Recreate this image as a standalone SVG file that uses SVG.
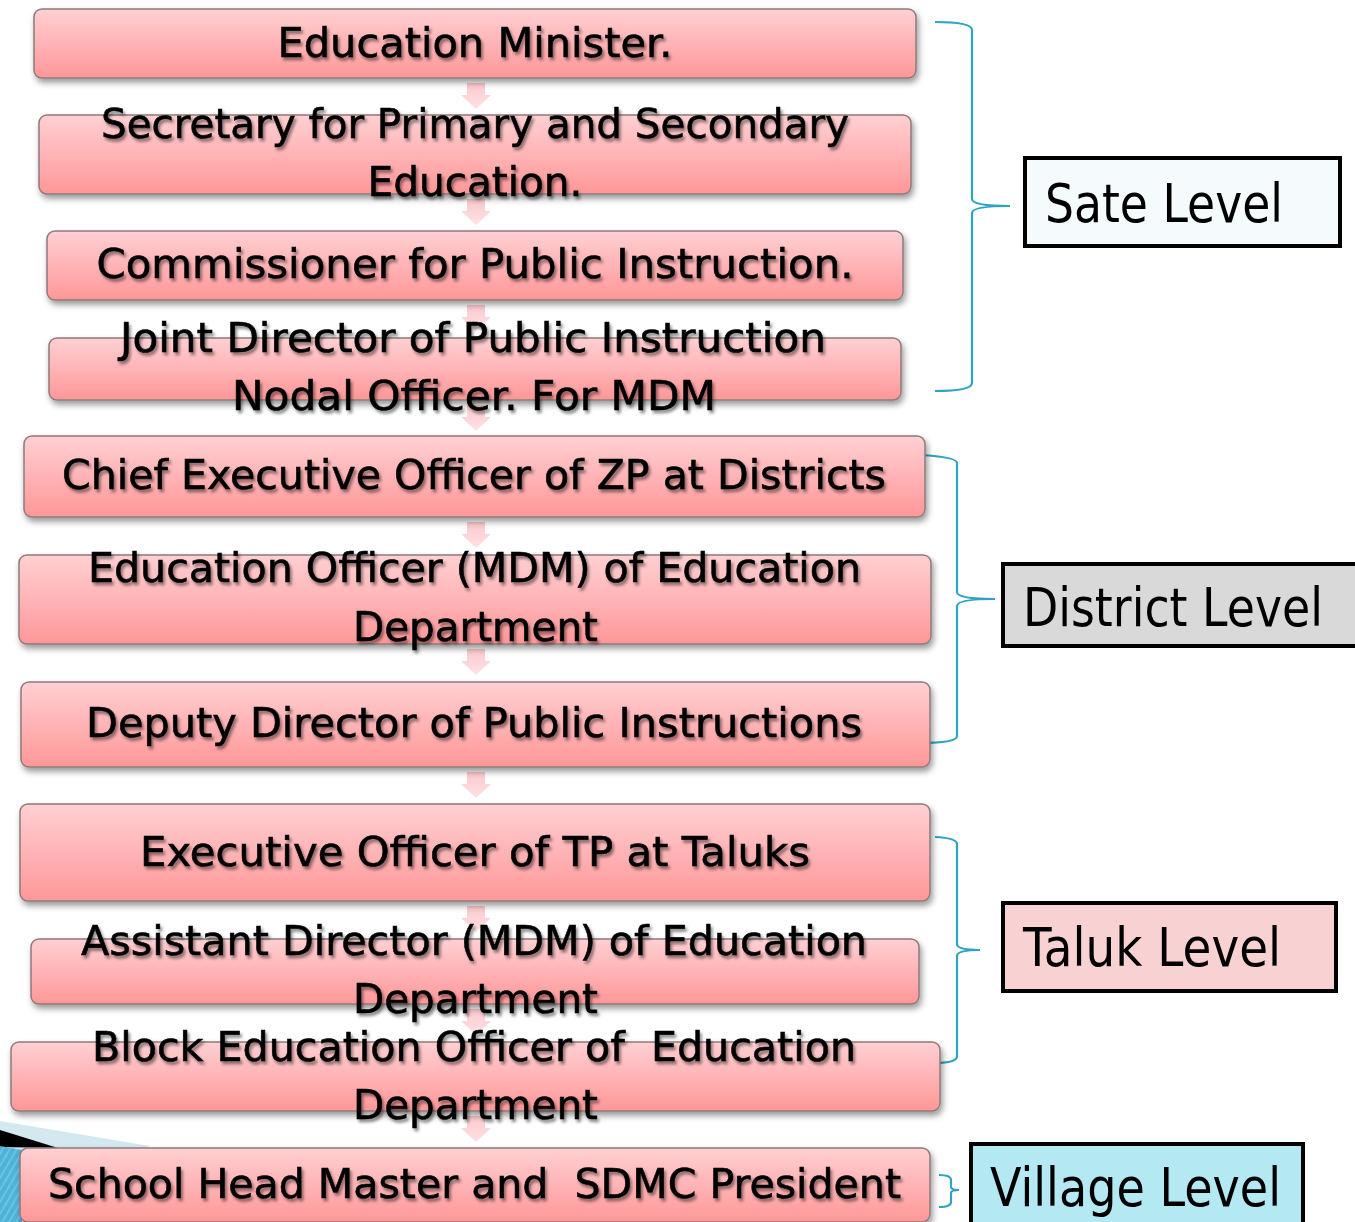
<svg xmlns="http://www.w3.org/2000/svg" width="1355" height="1222" viewBox="0 0 1355 1222">
<style>
.box{fill:url(#boxg);stroke:#8f7a7a;stroke-width:1.5;filter:url(#bshadow)}
.t{font-family:"DejaVu Sans","Liberation Sans",sans-serif;font-weight:normal;font-size:41px;fill:#000;stroke:#000;stroke-width:0.6;text-anchor:middle;filter:url(#tshadow)}
.arrow{fill:url(#arrg)}
.brace{fill:none;stroke:#2fa3c0;stroke-width:2.2}
.lvl{stroke:#000;stroke-width:4}
.lt{font-family:"DejaVu Sans","Liberation Sans",sans-serif;font-size:54px;fill:#000}
</style>
<defs>
<linearGradient id="boxg" x1="0" y1="0" x2="0" y2="1">
<stop offset="0" stop-color="#ffd0d3"/>
<stop offset="1" stop-color="#ff9798"/>
</linearGradient>
<linearGradient id="arrg" x1="0" y1="0" x2="0" y2="1">
<stop offset="0" stop-color="#fcc8cd"/>
<stop offset="1" stop-color="#fde2e4"/>
</linearGradient>
<filter id="bshadow" x="-5%" y="-20%" width="110%" height="150%">
<feDropShadow dx="2" dy="4" stdDeviation="3" flood-color="#000" flood-opacity="0.4"/>
</filter>
<filter id="tshadow" x="-5%" y="-30%" width="110%" height="170%">
<feDropShadow dx="2" dy="3" stdDeviation="1.5" flood-color="#000" flood-opacity="0.45"/>
</filter>
<pattern id="hatch" width="6" height="6" patternUnits="userSpaceOnUse" patternTransform="rotate(30)">
<rect width="6" height="6" fill="#4fb3d9"/>
<rect width="2" height="6" fill="#6cc2e2"/>
</pattern>
</defs>
<rect width="1355" height="1222" fill="#fff"/>
<g id="decor">
<polygon points="0,1121 150,1146 0,1222" fill="#d4e8f0"/>
<polygon points="0,1130 58,1148 0,1147" fill="#000"/>
<polygon points="0,1146 22,1150 22,1222 0,1222" fill="url(#hatch)"/>
</g>
<g id="connectors">
<g class="arrow">
<path d="M467,83 h18 v12 h6 l-15,14 l-15,-14 h6 z"/>
<path d="M467,199 h18 v12 h6 l-15,14 l-15,-14 h6 z"/>
<path d="M467,305 h18 v12 h6 l-15,14 l-15,-14 h6 z"/>
<path d="M467,405 h18 v12 h6 l-15,14 l-15,-14 h6 z"/>
<path d="M467,522 h18 v12 h6 l-15,14 l-15,-14 h6 z"/>
<path d="M467,649 h18 v12 h6 l-15,14 l-15,-14 h6 z"/>
<path d="M467,772 h18 v12 h6 l-15,14 l-15,-14 h6 z"/>
<path d="M467,906 h18 v12 h6 l-15,14 l-15,-14 h6 z"/>
<path d="M467,1009 h18 v12 h6 l-15,14 l-15,-14 h6 z"/>
<path d="M467,1116 h18 v12 h6 l-15,14 l-15,-14 h6 z"/>
</g>
<path class="brace" d="M935,22 Q972,22 972,30 V199 Q972,206 1010,206 Q972,206 972,213 V383 Q972,391 935,391"/>
<path class="brace" d="M920,455 Q957,457 957,463 V592 Q957,599 995,599 Q957,599 957,606 V736 Q957,743 920,743"/>
<path class="brace" d="M935,837 Q957,838 957,844 V944 Q957,950 980,950 Q957,950 957,956 V1056 Q957,1063 935,1063"/>
<path class="brace" d="M939,1175 Q951,1175 951,1180 V1187 Q951,1190 959,1190 Q951,1190 951,1193 V1202 Q951,1207 939,1207"/>
</g>
<g id="n1"><rect class="box" x="34" y="9" width="882" height="69" rx="8"/>
<text class="t" x="475" y="57" textLength="395" lengthAdjust="spacingAndGlyphs">Education Minister.</text></g>
<g id="n2"><rect class="box" x="39" y="115" width="872" height="79" rx="8"/>
<text class="t" x="475" y="138" textLength="748" lengthAdjust="spacingAndGlyphs">Secretary for Primary and Secondary</text>
<text class="t" x="475" y="196" textLength="215" lengthAdjust="spacingAndGlyphs">Education.</text></g>
<g id="n3"><rect class="box" x="47" y="231" width="856" height="69" rx="8"/>
<text class="t" x="475" y="278" textLength="757" lengthAdjust="spacingAndGlyphs">Commissioner for Public Instruction.</text></g>
<g id="n4"><rect class="box" x="49" y="338" width="852" height="62" rx="8"/>
<text class="t" x="473" y="352" textLength="706" lengthAdjust="spacingAndGlyphs">Joint Director of Public Instruction</text>
<text class="t" x="474" y="410" textLength="484" lengthAdjust="spacingAndGlyphs">Nodal Officer. For MDM</text></g>
<g id="n5"><rect class="box" x="24" y="436" width="901" height="81" rx="8"/>
<text class="t" x="474" y="489" textLength="824" lengthAdjust="spacingAndGlyphs">Chief Executive Officer of ZP at Districts</text></g>
<g id="n6"><rect class="box" x="19" y="555" width="912" height="89" rx="8"/>
<text class="t" x="474.5" y="582" textLength="773" lengthAdjust="spacingAndGlyphs">Education Officer (MDM) of Education</text>
<text class="t" x="475.5" y="641" textLength="245" lengthAdjust="spacingAndGlyphs">Department</text></g>
<g id="n7"><rect class="box" x="21" y="682" width="909" height="85" rx="8"/>
<text class="t" x="474" y="737" textLength="776" lengthAdjust="spacingAndGlyphs">Deputy Director of Public Instructions</text></g>
<g id="n8"><rect class="box" x="20" y="804" width="910" height="97" rx="8"/>
<text class="t" x="475" y="866" textLength="670" lengthAdjust="spacingAndGlyphs">Executive Officer of TP at Taluks</text></g>
<g id="n9"><rect class="box" x="31" y="939" width="888" height="65" rx="8"/>
<text class="t" x="474" y="955" textLength="786" lengthAdjust="spacingAndGlyphs">Assistant Director (MDM) of Education</text>
<text class="t" x="475.5" y="1013" textLength="245" lengthAdjust="spacingAndGlyphs">Department</text></g>
<g id="n10"><rect class="box" x="11" y="1042" width="929" height="69" rx="8"/>
<text class="t" x="474" y="1061" textLength="764" lengthAdjust="spacingAndGlyphs" xml:space="preserve">Block Education Officer of  Education</text>
<text class="t" x="475.5" y="1119" textLength="245" lengthAdjust="spacingAndGlyphs">Department</text></g>
<g id="n11"><rect class="box" x="20" y="1148" width="910" height="74" rx="8"/>
<text class="t" x="474.5" y="1198" textLength="853" lengthAdjust="spacingAndGlyphs" xml:space="preserve">School Head Master and  SDMC President</text></g>
<g id="state-level"><rect class="lvl" x="1025" y="158" width="315" height="88" fill="#f5fbfc"/>
<text class="lt" x="1045" y="222" textLength="238" lengthAdjust="spacingAndGlyphs">Sate Level</text></g>
<g id="district-level"><rect class="lvl" x="1003" y="564" width="360" height="82" fill="#d9d9d9"/>
<text class="lt" x="1023" y="626" textLength="300" lengthAdjust="spacingAndGlyphs">District Level</text></g>
<g id="taluk-level"><rect class="lvl" x="1003" y="903" width="333" height="88" fill="#f8d1d2"/>
<text class="lt" x="1023" y="966" textLength="258" lengthAdjust="spacingAndGlyphs">Taluk Level</text></g>
<g id="village-level"><rect class="lvl" x="971" y="1144" width="332" height="90" fill="#b4e8f3"/>
<text class="lt" x="990" y="1206" textLength="291" lengthAdjust="spacingAndGlyphs">Village Level</text></g>
</svg>
